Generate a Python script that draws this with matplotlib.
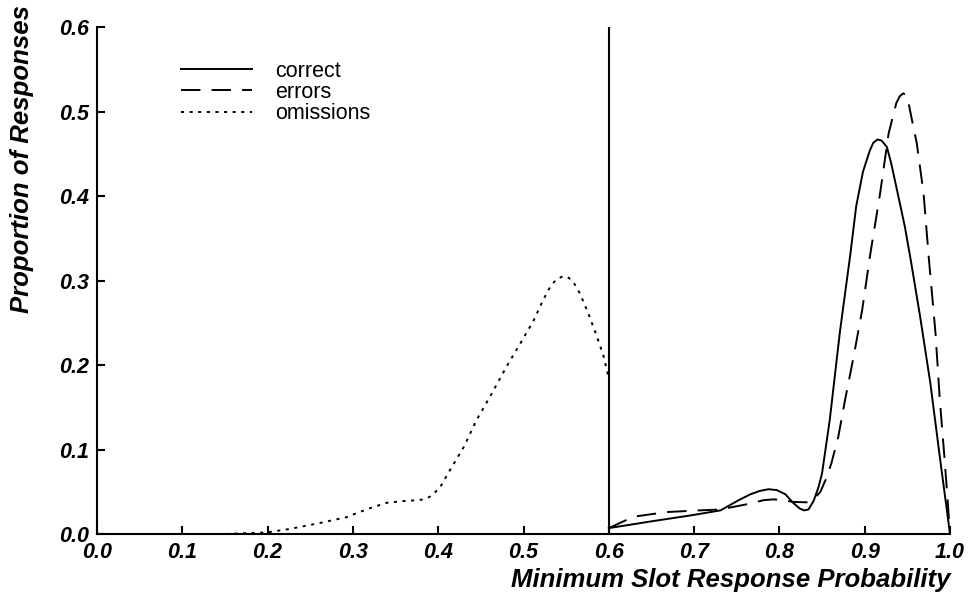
import matplotlib
matplotlib.use("Agg")
import matplotlib.pyplot as plt

plt.rcParams['font.family'] = ['Liberation Sans', 'DejaVu Sans']
plt.rcParams['lines.scale_dashes'] = False

# Proportion of responses against minimum slot response probability
omissions_x = [0.05, 0.10, 0.15, 0.20, 0.226, 0.261, 0.293, 0.300, 0.324, 0.340, 0.359,
               0.375, 0.383, 0.390, 0.396, 0.402, 0.414, 0.430, 0.445, 0.461, 0.480,
               0.500, 0.512, 0.523, 0.531, 0.538, 0.546, 0.552, 0.558, 0.566, 0.576,
               0.586, 0.594, 0.600]
omissions_y = [0.0, 0.0, 0.0, 0.002, 0.006, 0.013, 0.020, 0.023, 0.032, 0.037, 0.039,
               0.040, 0.041, 0.044, 0.049, 0.055, 0.076, 0.103, 0.135, 0.163, 0.198,
               0.232, 0.253, 0.277, 0.292, 0.301, 0.305, 0.304, 0.299, 0.285, 0.261,
               0.234, 0.210, 0.184]

correct_x = [0.600, 0.650, 0.699, 0.731, 0.754, 0.766, 0.777, 0.787, 0.797, 0.807,
             0.816, 0.824, 0.829, 0.834, 0.840, 0.846, 0.850, 0.859, 0.871, 0.883,
             0.890, 0.898, 0.906, 0.910, 0.915, 0.920, 0.926, 0.931, 0.937, 0.947,
             0.954, 0.965, 0.977, 0.988, 1.000]
correct_y = [0.007, 0.015, 0.0225, 0.028, 0.041, 0.047, 0.051, 0.053, 0.052, 0.047,
             0.037, 0.030, 0.028, 0.029, 0.039, 0.056, 0.072, 0.135, 0.240, 0.330,
             0.388, 0.429, 0.454, 0.463, 0.467, 0.4655, 0.458, 0.439, 0.411, 0.364,
             0.324, 0.257, 0.178, 0.0915, 0.0]

errors_x = [0.600, 0.629, 0.668, 0.707, 0.730, 0.766, 0.781, 0.793, 0.805, 0.816,
            0.832, 0.840, 0.848, 0.855, 0.861, 0.869, 0.877, 0.887, 0.897, 0.906,
            0.918, 0.928, 0.937, 0.941, 0.945, 0.948, 0.951, 0.955, 0.961, 0.969,
            0.975, 0.983, 0.988, 0.994, 1.000]
errors_y = [0.007, 0.0205, 0.026, 0.028, 0.029, 0.036, 0.040, 0.041, 0.040, 0.038,
            0.0375, 0.041, 0.050, 0.066, 0.084, 0.115, 0.159, 0.210, 0.265, 0.328,
            0.403, 0.474, 0.510, 0.518, 0.5215, 0.520, 0.512, 0.492, 0.4625, 0.403,
            0.328, 0.2375, 0.159, 0.084, 0.0]

cutoff = 0.6
x_ticks = [0.0, 0.1, 0.2, 0.3, 0.4, 0.5, 0.6, 0.7, 0.8, 0.9, 1.0]
y_ticks = [0.0, 0.1, 0.2, 0.3, 0.4, 0.5, 0.6]

fig = plt.figure(figsize=(9.71, 5.95), dpi=100)
ax = fig.add_axes([0.0999, 0.1025, 0.8785, 0.852])

lw = 1.4
ax.plot(correct_x, correct_y, color='black', lw=lw, label='correct')
ax.plot(errors_x, errors_y, color='black', lw=lw, dashes=(14, 8), label='errors')
ax.plot(omissions_x, omissions_y, color='black', lw=lw, dashes=(2.2, 4.0),
        label='omissions')
ax.axvline(cutoff, color='black', lw=1.5)

ax.set_xlim(0, 1.0)
ax.set_ylim(0, 0.6)
ax.set_xticks(x_ticks)
ax.set_yticks(y_ticks)
ax.set_xticklabels([f"{t:.1f}" for t in x_ticks])
ax.set_yticklabels([f"{t:.1f}" for t in y_ticks])
ax.tick_params(direction='in', length=6, width=1.5, pad=6, labelsize=15.5)
for lab in ax.get_xticklabels() + ax.get_yticklabels():
    lab.set_fontweight('bold')
    lab.set_fontstyle('italic')

for side in ('top', 'right'):
    ax.spines[side].set_visible(False)
for side in ('left', 'bottom'):
    ax.spines[side].set_linewidth(1.5)

ax.set_xlabel('Minimum Slot Response Probability', fontsize=18.5,
              fontweight='bold', fontstyle='italic', ha='right', x=1.0,
              labelpad=3)
fig.text(0.023, 0.992, 'Proportion of Responses', rotation=90, ha='center',
         va='top', fontsize=18.5, fontweight='bold', fontstyle='italic')

ax.legend(loc='upper left', bbox_to_anchor=(0.088, 0.951), frameon=False,
          fontsize=15.5, handlelength=3.3, handletextpad=1.1, labelspacing=0.02,
          borderaxespad=0)

fig.savefig('out.png', dpi=100)
